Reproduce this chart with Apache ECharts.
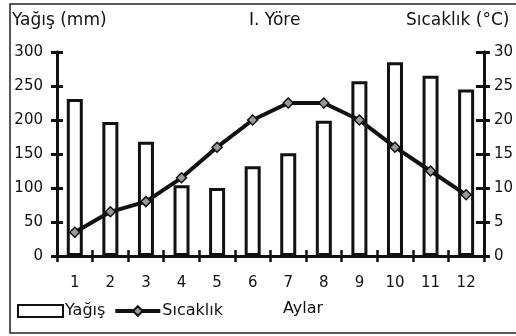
<!DOCTYPE html>
<html>
<head>
<meta charset="utf-8">
<script src="https://cdn.jsdelivr.net/npm/echarts@6/dist/echarts.min.js"></script>
<style>
  html, body { margin: 0; padding: 0; background: #fff; }
  #chart { width: 516px; height: 336px; }
</style>
</head>
<body>
<div id="chart"></div>
<script>
// Monthly climate data for region I
const months = ['1', '2', '3', '4', '5', '6', '7', '8', '9', '10', '11', '12'];
const precipitation = [231, 197, 168, 104, 100, 132, 151, 199, 257, 285, 265, 245]; // mm
const temperature = [3.5, 6.5, 8, 11.5, 16, 20, 22.5, 22.5, 20, 16, 12.5, 9];       // °C
const precipTicks = { min: 0, max: 300, step: 50 };
const tempTicks = { min: 0, max: 30, step: 5 };

const FONT = 'DejaVu Sans';
const INK = '#111';

const chart = echarts.init(document.getElementById('chart'), null, { renderer: 'canvas' });

// shared axis line look
const axisLine = { show: true, lineStyle: { color: INK, width: 3 } };
const labelStyle = { color: INK, fontFamily: FONT, fontSize: 15 };

function valueAxis(pos, t, withLabels, inside, margin, len) {
  return {
    type: 'value', position: pos, offset: 0,
    min: t.min, max: t.max, interval: t.step,
    axisLine: axisLine,
    axisTick: { show: true, inside: inside, length: len, lineStyle: { color: INK, width: 3 } },
    axisLabel: Object.assign({ show: withLabels, margin: margin }, labelStyle),
    splitLine: { show: false }
  };
}

function monthAxis(withLabels, inside) {
  return {
    type: 'category', position: 'bottom', offset: 0,
    data: months, boundaryGap: true,
    axisLine: axisLine,
    axisTick: { show: true, inside: inside, length: 6, alignWithLabel: false, lineStyle: { color: INK, width: 2.5 } },
    axisLabel: Object.assign({ show: withLabels, margin: 20 }, labelStyle),
    splitLine: { show: false }
  };
}

const headStyle = { color: INK, fontFamily: FONT, fontSize: 17, fontWeight: 'normal' };

chart.setOption({
  animation: false,
  backgroundColor: '#fff',
  title: [
    { text: 'Yağış (mm)', left: 12, top: 12, padding: 0, textStyle: headStyle },
    { text: 'I. Yöre', left: 249, top: 12, padding: 0, textStyle: headStyle },
    { text: 'Sıcaklık (°C)', left: 406, top: 12, padding: 0, textStyle: headStyle },
    { text: 'Aylar', left: 283, top: 301, padding: 0, textStyle: Object.assign({}, headStyle, { fontSize: 16 }) }
  ],
  legend: {
    left: 17, top: 303, padding: 0,
    itemWidth: 45, itemHeight: 12, itemGap: 8,
    textStyle: { color: INK, fontFamily: FONT, fontSize: 16, padding: [0, 0, 0, -3] },
    lineStyle: { width: 4 },
    data: [
      { name: 'Yağış', icon: 'rect' },
      { name: 'Sıcaklık' }
    ]
  },
  grid: { left: 57, right: 29, top: 52, bottom: 80, containLabel: false },
  xAxis: [monthAxis(true, false), monthAxis(false, true)],
  yAxis: [
    valueAxis('left', precipTicks, true, false, 14, 6),
    valueAxis('right', tempTicks, true, false, 10, 6),
    valueAxis('left', precipTicks, false, true, 8, 6),
    valueAxis('right', tempTicks, false, true, 8, 8)
  ],
  graphic: [
    {
      type: 'rect', silent: true, z: 100,
      shape: { x: 10, y: 4, width: 520, height: 329 },
      style: { fill: 'none', stroke: '#222', lineWidth: 1.5 }
    }
  ],
  series: [
    {
      name: 'Yağış', type: 'bar',
      xAxisIndex: 0, yAxisIndex: 0,
      data: precipitation,
      barWidth: 16,
      itemStyle: { color: '#fff', borderColor: INK, borderWidth: 3 }
    },
    {
      name: 'Sıcaklık', type: 'line',
      xAxisIndex: 0, yAxisIndex: 1,
      data: temperature,
      symbol: 'diamond', symbolSize: 10,
      lineStyle: { color: INK, width: 4 },
      itemStyle: { color: '#9a9a9a', borderColor: INK, borderWidth: 1.5 },
      z: 5
    }
  ]
});
</script>
</body>
</html>
